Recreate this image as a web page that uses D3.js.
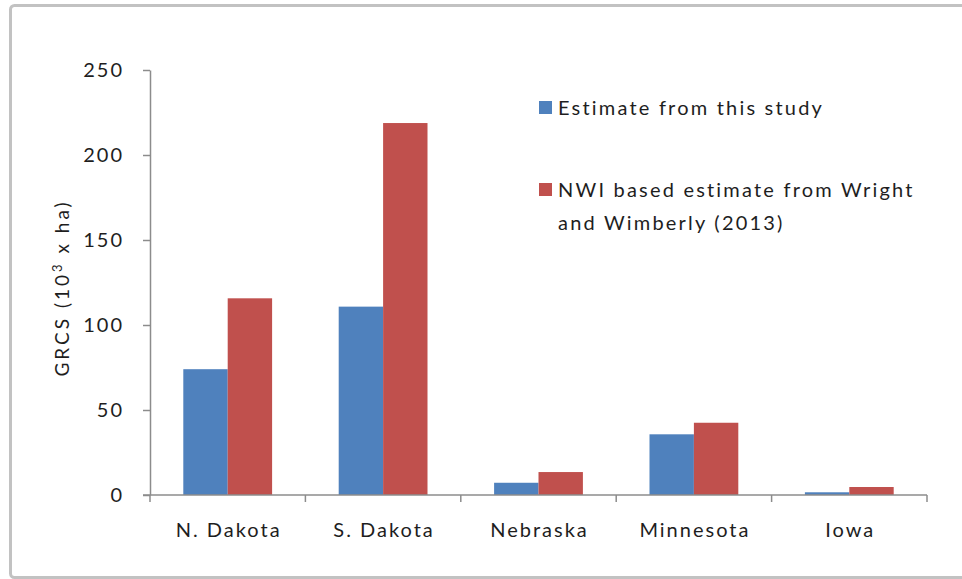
<!DOCTYPE html>
<html>
<head>
<meta charset="utf-8">
<script src="https://cdn.jsdelivr.net/npm/d3@7/dist/d3.min.js"></script>
<style>
  html, body { margin: 0; padding: 0; background: #fff; }
  svg { display: block; }
  text { font-family: Lato, "Open Sans", sans-serif; fill: #1e1e1e; }
</style>
</head>
<body>
<svg id="chart" width="962" height="579"></svg>
<script>
// Wetland area by state (10^3 ha)
const states = ["N. Dakota", "S. Dakota", "Nebraska", "Minnesota", "Iowa"];
const seriesNames = ["Estimate from this study", "NWI based estimate from Wright and Wimberly (2013)"];
const thisStudy = [74, 110.8, 7.2, 35.7, 1.6];
const nwiEstimate = [115.7, 218.8, 13.5, 42.5, 4.7];
const yTicks = [0, 50, 100, 150, 200, 250];
const colors = ["#4f81bd", "#c0504d"];

const svg = d3.select("#chart");
const axisColor = "#8c8c8c";

// outer chart frame
svg.append("rect")
  .attr("x", 10.5).attr("y", 5.5)
  .attr("width", 1000).attr("height", 572)
  .attr("rx", 4)
  .attr("fill", "#fff")
  .attr("stroke", "#c2c2c2")
  .attr("stroke-width", 3);

const x0 = d3.scaleBand().domain(states).range([150, 927]).padding(0);
const x1 = d3.scaleBand().domain([0, 1]).range([0, x0.bandwidth()])
  .paddingInner(0).paddingOuter(0.75);
const y = d3.scaleLinear().domain([0, 250]).range([495, 70]);

const rows = states.map((s, i) => ({ state: s, values: [thisStudy[i], nwiEstimate[i]] }));

// bars
const groups = svg.append("g").selectAll("g").data(rows).join("g")
  .attr("transform", d => `translate(${x0(d.state)},0)`);
groups.selectAll("rect").data(d => d.values).join("rect")
  .attr("x", (d, i) => x1(i))
  .attr("width", x1.bandwidth())
  .attr("y", d => y(d))
  .attr("height", d => y(0) - y(d))
  .attr("fill", (d, i) => colors[i]);

// y axis
const yAxis = svg.append("g")
  .attr("transform", "translate(150,0)")
  .call(d3.axisLeft(y).tickValues(yTicks).tickSize(7).tickSizeOuter(0).tickPadding(19));
yAxis.select(".domain").attr("stroke", axisColor).attr("stroke-width", 1.5);
yAxis.selectAll(".tick line").attr("stroke", axisColor).attr("stroke-width", 1.5);
yAxis.selectAll(".tick text")
  .attr("font-size", 20).attr("fill", "#1e1e1e")
  .style("letter-spacing", "2px");

// x axis: baseline with ticks at category boundaries
const xAxis = svg.append("g");
xAxis.append("line")
  .attr("x1", 143).attr("x2", 927)
  .attr("y1", y(0)).attr("y2", y(0))
  .attr("stroke", axisColor).attr("stroke-width", 1.5);
const bounds = states.map(s => x0(s)).concat([x0.range()[1]]);
xAxis.selectAll("line.tick").data(bounds).join("line")
  .attr("class", "tick")
  .attr("x1", d => d).attr("x2", d => d)
  .attr("y1", y(0)).attr("y2", y(0) + 7)
  .attr("stroke", axisColor).attr("stroke-width", 1.5);
xAxis.selectAll("text").data(states).join("text")
  .attr("x", d => x0(d) + x0.bandwidth() / 2 + 1)
  .attr("y", 537)
  .attr("text-anchor", "middle")
  .attr("font-size", 20)
  .style("letter-spacing", "2px")
  .text(d => d);

// y axis title
const title = svg.append("text")
  .attr("transform", "translate(69,288) rotate(-90)")
  .attr("text-anchor", "middle")
  .attr("font-size", 19)
  .style("letter-spacing", "3px");
title.append("tspan").text("GRCS (10");
title.append("tspan").attr("dy", -7).attr("font-size", 13).text("3");
title.append("tspan").attr("dy", 7).text(" x ha)");

// legend
const legend = svg.append("g");
const legendItems = [
  { lines: [seriesNames[0]], y: 115 },
  { lines: ["NWI based estimate from Wright", "and Wimberly (2013)"], y: 197 }
];
legendItems.forEach((item, i) => {
  legend.append("rect")
    .attr("x", 539).attr("y", item.y - 14)
    .attr("width", 13).attr("height", 13)
    .attr("fill", colors[i]);
  item.lines.forEach((ln, j) => {
    legend.append("text")
      .attr("x", 558).attr("y", item.y + j * 33)
      .attr("font-size", 20)
      .style("letter-spacing", "2.2px")
      .text(ln);
  });
});
</script>
</body>
</html>
